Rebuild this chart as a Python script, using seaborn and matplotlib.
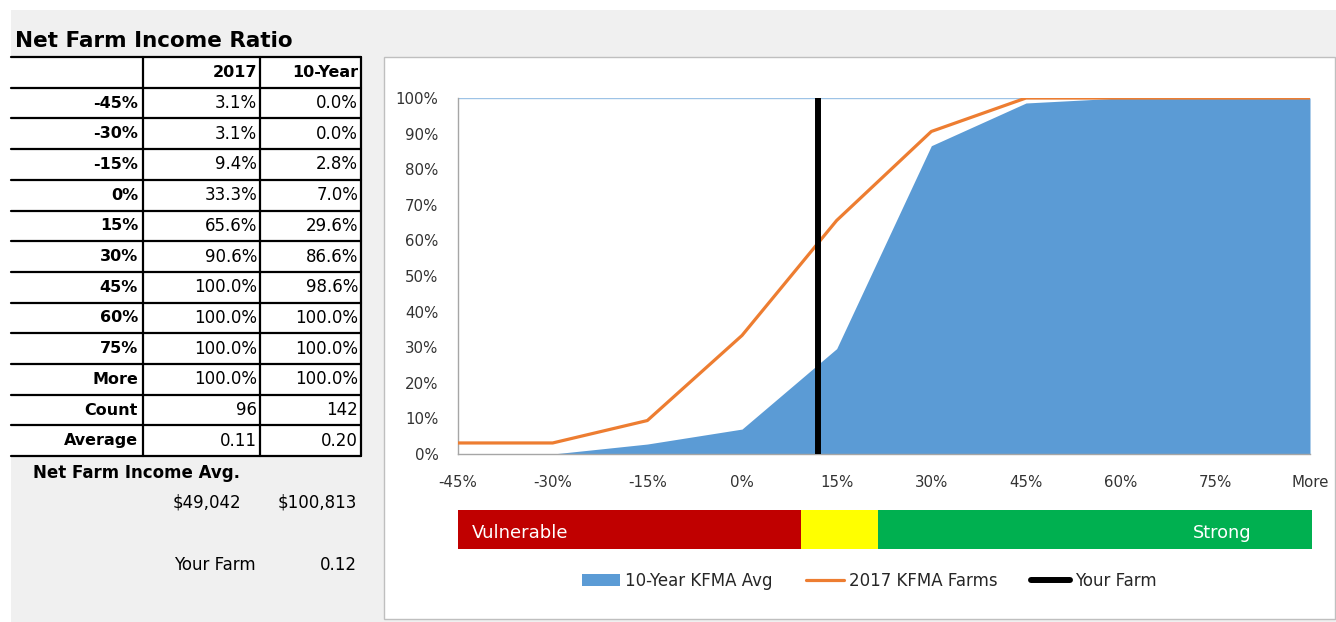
import matplotlib
matplotlib.use("Agg")
import matplotlib.pyplot as plt
from matplotlib.patches import Rectangle, Patch
from matplotlib.lines import Line2D
import seaborn as sns
import pandas as pd

# ---------------- data ----------------
bins = ["-45%", "-30%", "-15%", "0%", "15%", "30%", "45%", "60%", "75%", "More"]
pct_2017 = [3.1, 3.1, 9.4, 33.3, 65.6, 90.6, 100.0, 100.0, 100.0, 100.0]
pct_10yr = [0.0, 0.0, 2.8, 7.0, 29.6, 86.6, 98.6, 100.0, 100.0, 100.0]
count_vals = [96, 142]
average_vals = [0.11, 0.20]
nfi_avg = [49042, 100813]
your_farm = 0.12
col_headers = ["2017", "10-Year"]
bin_step = 0.15  # width of each ratio bin

# ---------------- style ----------------
sns.set_theme(style="white")
plt.rcParams["font.family"] = ["DejaVu Sans"]
plt.rcParams["text.color"] = "black"

W, H = 1336, 622
fig = plt.figure(figsize=(W / 100, H / 100), dpi=100)
fig.patch.set_facecolor("#f0f0f0")

# background axes in pixel coords
bg = fig.add_axes([0, 0, 1, 1])
bg.set_xlim(0, W)
bg.set_ylim(H, 0)
bg.axis("off")
bg.add_patch(Rectangle((0, 0), W, 10, facecolor="white", edgecolor="none"))
bg.add_patch(Rectangle((0, 0), 11, H, facecolor="white", edgecolor="none"))

# title
bg.text(15, 41, "Net Farm Income Ratio", fontsize=15.5, fontweight="bold",
        ha="left", va="center", color="black")

# table
top, rh = 57, 30.7
x_left, x_c1, x_c2, x_c3 = 11, 143, 260, 361
row_labels = bins + ["Count", "Average"]
n_rows = len(row_labels) + 1
bg.add_patch(Rectangle((x_left, top), x_c3 - x_left, rh * n_rows,
                       facecolor="white", edgecolor="none"))
for i in range(n_rows + 1):
    y = top + i * rh
    bg.plot([x_left, x_c3], [y, y], color="black", lw=1.6)
for xc in (x_c1, x_c2, x_c3):
    bg.plot([xc, xc], [top, top + rh * n_rows], color="black", lw=1.6)

fs_reg, fs_bold = 12, 11.5
bg.text(x_c2 - 3, top + rh / 2, col_headers[0], fontsize=fs_bold, fontweight="bold",
        ha="right", va="center")
bg.text(x_c3 - 3, top + rh / 2, col_headers[1], fontsize=fs_bold, fontweight="bold",
        ha="right", va="center")
vals_a = [f"{v:.1f}%" for v in pct_2017] + [f"{count_vals[0]}", f"{average_vals[0]:.2f}"]
vals_b = [f"{v:.1f}%" for v in pct_10yr] + [f"{count_vals[1]}", f"{average_vals[1]:.2f}"]
for i, lab in enumerate(row_labels):
    yc = top + (i + 1.5) * rh
    bg.text(x_c1 - 5, yc, lab, fontsize=fs_bold, fontweight="bold", ha="right", va="center")
    bg.text(x_c2 - 3, yc, vals_a[i], fontsize=fs_reg, ha="right", va="center")
    bg.text(x_c3 - 3, yc, vals_b[i], fontsize=fs_reg, ha="right", va="center")

bg.text(33, 473, "Net Farm Income Avg.", fontsize=12, fontweight="bold",
        ha="left", va="center")
bg.text(241, 503, f"${nfi_avg[0]:,}", fontsize=fs_reg, ha="right", va="center")
bg.text(357, 503, f"${nfi_avg[1]:,}", fontsize=fs_reg, ha="right", va="center")
bg.text(256, 565, "Your Farm", fontsize=fs_reg, ha="right", va="center")
bg.text(357, 565, f"{your_farm:.2f}", fontsize=fs_reg, ha="right", va="center")

# chart box
bg.add_patch(Rectangle((384, 57), W - 384 - 1, 562, facecolor="white",
                       edgecolor="#bfbfbf", lw=1))

# ---------------- main chart ----------------
ax = fig.add_axes([458 / W, 1 - 454 / H, (1310 - 458) / W, (454 - 98) / H])
ax.set_facecolor("white")
df = pd.DataFrame({"pos": range(len(bins)), "bin": bins,
                   "y2017": pct_2017, "y10": pct_10yr})

ax.fill_between(df["pos"], 0, df["y10"], color="#5b9bd5", lw=0, zorder=1)
ax.axhline(100, color="#9dc3e6", lw=1, zorder=0.5)
sns.lineplot(data=df, x="pos", y="y2017", color="#ed7d31", lw=2.3, ax=ax,
             zorder=3, legend=False)
farm_pos = bins.index("0%") + your_farm / bin_step
ax.plot([farm_pos, farm_pos], [0, 100], color="black", lw=4.3, zorder=4,
        solid_capstyle="butt")

ax.set_xlim(0, len(bins) - 1)
ax.set_ylim(0, 100)
ax.set_xticks(range(len(bins)))
ax.set_xticklabels(bins)
ax.set_yticks(range(0, 101, 10))
ax.set_yticklabels([f"{v}%" for v in range(0, 101, 10)])
ax.set_xlabel("")
ax.set_ylabel("")
for s in ("top", "right"):
    ax.spines[s].set_visible(False)
for s in ("left", "bottom"):
    ax.spines[s].set_color("#a6a6a6")
    ax.spines[s].set_linewidth(1)
ax.tick_params(axis="both", which="both", direction="out", length=4, width=1,
               color="#a6a6a6", labelsize=10.8, labelcolor="#333333")
ax.tick_params(axis="x", pad=11)
ax.tick_params(axis="y", pad=10)
ax.grid(False)

# ---------------- strength band ----------------
band = fig.add_axes([458 / W, 1 - 549 / H, (1312 - 458) / W, (549 - 510) / H])
band.set_xlim(0, 1)
band.set_ylim(0, 1)
band.axis("off")
band.axvspan(0, (801 - 458) / (1312 - 458), color="#c00000", lw=0)
band.axvspan((801 - 458) / (1312 - 458), (878 - 458) / (1312 - 458), color="#ffff00", lw=0)
band.axvspan((878 - 458) / (1312 - 458), 1, color="#00b050", lw=0)
band.text((472 - 458) / (1312 - 458), 0.4, "Vulnerable", color="white", fontsize=13,
          ha="left", va="center")
band.text((1252 - 458) / (1312 - 458), 0.4, "Strong", color="white", fontsize=12.8,
          ha="right", va="center")

# ---------------- legend ----------------
handles = [Patch(facecolor="#5b9bd5", edgecolor="none"),
           Line2D([], [], color="#ed7d31", lw=2.3),
           Line2D([], [], color="black", lw=4.3, solid_capstyle="round")]
labels = ["10-Year KFMA Avg", "2017 KFMA Farms", "Your Farm"]
fig.legend(handles, labels, loc="center", bbox_to_anchor=(869 / W, 1 - 581 / H),
           ncol=3, frameon=False, fontsize=12, handlelength=2.3, handleheight=0.7,
           handletextpad=0.3, columnspacing=2.0, labelcolor="#262626")

fig.savefig("out.png", dpi=100, facecolor=fig.get_facecolor())
